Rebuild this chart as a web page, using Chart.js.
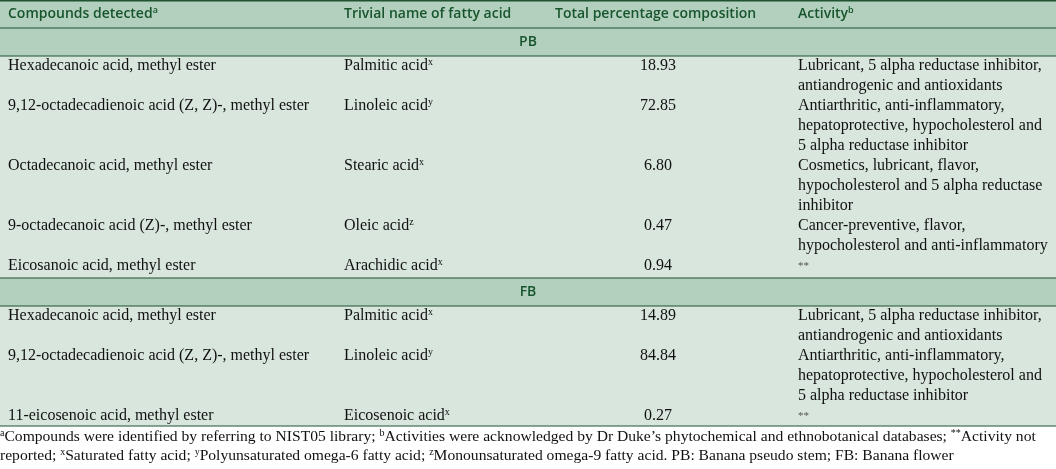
<!DOCTYPE html>
<html>
<head>
<meta charset="utf-8">
<script src="https://cdn.jsdelivr.net/npm/chart.js@4.4.1/dist/chart.umd.min.js"></script>
<style>
  html, body { margin: 0; padding: 0; background: #ffffff; }
  #wrap { width: 1056px; height: 469px; }
</style>
</head>
<body>
<div id="wrap"><canvas id="tableChart" width="1056" height="469"></canvas></div>
<script>
/* =========================
   TABLE DATA
========================= */
const headers = ["Compounds detected^a", "Trivial name of fatty acid", "Total percentage composition", "Activity^b"];
const sections = ["PB", "FB"];

const pbCompounds = [
    "Hexadecanoic acid, methyl ester",
    "9,12-octadecadienoic acid (Z, Z)-, methyl ester",
    "Octadecanoic acid, methyl ester",
    "9-octadecanoic acid (Z)-, methyl ester",
    "Eicosanoic acid, methyl ester"
];
const pbTrivial = ["Palmitic acid^x", "Linoleic acid^y", "Stearic acid^x", "Oleic acid^z", "Arachidic acid^x"];
const pbPercent = [18.93, 72.85, 6.80, 0.47, 0.94];
const pbActivity = [
    ["Lubricant, 5 alpha reductase inhibitor,", "antiandrogenic and antioxidants"],
    ["Antiarthritic, anti-inflammatory,", "hepatoprotective, hypocholesterol and", "5 alpha reductase inhibitor"],
    ["Cosmetics, lubricant, flavor,", "hypocholesterol and 5 alpha reductase", "inhibitor"],
    ["Cancer-preventive, flavor,", "hypocholesterol and anti-inflammatory"],
    ["**"]
];

const fbCompounds = [
    "Hexadecanoic acid, methyl ester",
    "9,12-octadecadienoic acid (Z, Z)-, methyl ester",
    "11-eicosenoic acid, methyl ester"
];
const fbTrivial = ["Palmitic acid^x", "Linoleic acid^y", "Eicosenoic acid^x"];
const fbPercent = [14.89, 84.84, 0.27];
const fbActivity = [
    ["Lubricant, 5 alpha reductase inhibitor,", "antiandrogenic and antioxidants"],
    ["Antiarthritic, anti-inflammatory,", "hepatoprotective, hypocholesterol and", "5 alpha reductase inhibitor"],
    ["**"]
];

const footnotes = [
    "^aCompounds were identified by referring to NIST05 library; ^bActivities were acknowledged by Dr Duke\u2019s phytochemical and ethnobotanical databases; ^*^*Activity not",
    "reported; ^xSaturated fatty acid; ^yPolyunsaturated omega-6 fatty acid; ^zMonounsaturated omega-9 fatty acid. PB: Banana pseudo stem; FB: Banana flower"
];

/* =========================
   STYLE
========================= */
const BAND = "#b3cfbe";
const BODY = "#d8e6dd";
const RULE = "#1f5331";
const HEAD_TEXT = "#17552c";
const HEAD_FONT = "600 14px 'Open Sans'";
const HEAD_SUP = "600 9px 'Open Sans'";
const BODY_FONT = "16px 'Liberation Serif'";
const BODY_SUP = "10px 'Liberation Serif'";
const NOTE_FONT = "15.6px 'Liberation Serif'";
const NOTE_SUP = "10px 'Liberation Serif'";
const colX = [8, 344, 658, 798];   // compound, trivial, percent (centre), activity
const headX = [8, 344, 555, 798];
const LINE = 20;

// split "text^x" into pieces
function pieces(str) {
    const out = [];
    const re = /\^(\S)/g;
    let last = 0, m;
    while ((m = re.exec(str)) !== null) {
        if (m.index > last) out.push({ t: str.slice(last, m.index), sup: false });
        out.push({ t: m[1], sup: true });
        last = re.lastIndex;
    }
    if (last < str.length) out.push({ t: str.slice(last), sup: false });
    return out;
}

function drawRich(ctx, str, x, y, font, supFont, align) {
    const parts = pieces(str);
    let total = 0;
    parts.forEach(p => {
        ctx.font = p.sup ? supFont : font;
        p.w = ctx.measureText(p.t).width;
        total += p.w;
    });
    let cx = align === "center" ? x - total / 2 : x;
    ctx.textAlign = "left";
    ctx.textBaseline = "middle";
    parts.forEach(p => {
        ctx.font = p.sup ? supFont : font;
        ctx.fillText(p.t, cx, p.sup ? y - 4 : y);
        cx += p.w;
    });
}

/* =========================
   TABLE PLUGIN
========================= */
const tablePlugin = {
    id: "tablePlugin",
    afterDraw(chart) {
        const ctx = chart.ctx;
        const xs = chart.scales.x;
        const ys = chart.scales.y;
        const px = v => xs.getPixelForValue(v);
        const py = v => ys.getPixelForValue(v);
        const left = px(0), right = px(1056);

        function band(top, bottom, color) {
            ctx.fillStyle = color;
            ctx.fillRect(left, py(top), right - left, py(bottom) - py(top));
        }
        function rule(at, w) {
            ctx.strokeStyle = RULE;
            ctx.lineWidth = w || 1.2;
            ctx.beginPath();
            ctx.moveTo(left, py(at));
            ctx.lineTo(right, py(at));
            ctx.stroke();
        }

        ctx.save();

        // header
        band(0, 28, BAND);
        ctx.fillStyle = HEAD_TEXT;
        headers.forEach((h, i) => drawRich(ctx, h, px(headX[i]), py(14), HEAD_FONT, HEAD_SUP, "left"));

        const groups = [
            [pbCompounds, pbTrivial, pbPercent, pbActivity],
            [fbCompounds, fbTrivial, fbPercent, fbActivity]
        ];

        let cursor = 28;
        const rules = [0, 28];
        groups.forEach((g, s) => {
            const [comp, triv, perc, act] = g;
            const nLines = act.reduce((a, r) => a + r.length, 0);
            const bodyTop = cursor + 28;
            const bodyBottom = bodyTop + nLines * LINE + (s === 0 ? 2 : 0);

            band(cursor, bodyTop, BAND);
            band(bodyTop, bodyBottom, BODY);
            rules.push(bodyTop);
            if (s > 0) rules.push(cursor);

            ctx.fillStyle = HEAD_TEXT;
            ctx.font = HEAD_FONT;
            ctx.textAlign = "center";
            ctx.textBaseline = "middle";
            ctx.fillText(sections[s], px(528), py(cursor + 14));

            let rowTop = bodyTop;
            comp.forEach((c, r) => {
                const yc = rowTop + LINE / 2;
                ctx.fillStyle = "#111111";
                drawRich(ctx, c, px(colX[0]), py(yc), BODY_FONT, BODY_SUP, "left");
                drawRich(ctx, triv[r], px(colX[1]), py(yc), BODY_FONT, BODY_SUP, "left");
                drawRich(ctx, perc[r].toFixed(2), px(colX[2]), py(yc), BODY_FONT, BODY_SUP, "center");
                act[r].forEach((line, k) => {
                    const f = line === "**" ? "11px 'Liberation Serif'" : BODY_FONT;
                    ctx.fillStyle = line === "**" ? "#555555" : "#111111";
                    drawRich(ctx, line, px(colX[3]), py(yc + k * LINE), f, BODY_SUP, "left");
                });
                rowTop += act[r].length * LINE;
            });
            cursor = bodyBottom;
        });
        rules.push(cursor);

        rules.forEach(r => rule(r === 0 ? 0.8 : r, r === 0 ? 1.6 : 1.2));

        // footnotes
        ctx.fillStyle = "#111111";
        footnotes.forEach((f, i) => drawRich(ctx, f, px(0), py(cursor + 11 + i * 19), NOTE_FONT, NOTE_SUP, "left"));

        ctx.restore();
    }
};

new Chart(document.getElementById("tableChart"), {
    type: "scatter",
    data: { datasets: [{ data: [], pointRadius: 0 }] },
    options: {
        responsive: false,
        animation: false,
        events: [],
        layout: { padding: 0 },
        plugins: { legend: { display: false }, tooltip: { enabled: false } },
        scales: {
            x: { type: "linear", min: 0, max: 1056, display: false },
            y: { type: "linear", min: 0, max: 469, reverse: true, display: false }
        }
    },
    plugins: [tablePlugin]
});
</script>
</body>
</html>
